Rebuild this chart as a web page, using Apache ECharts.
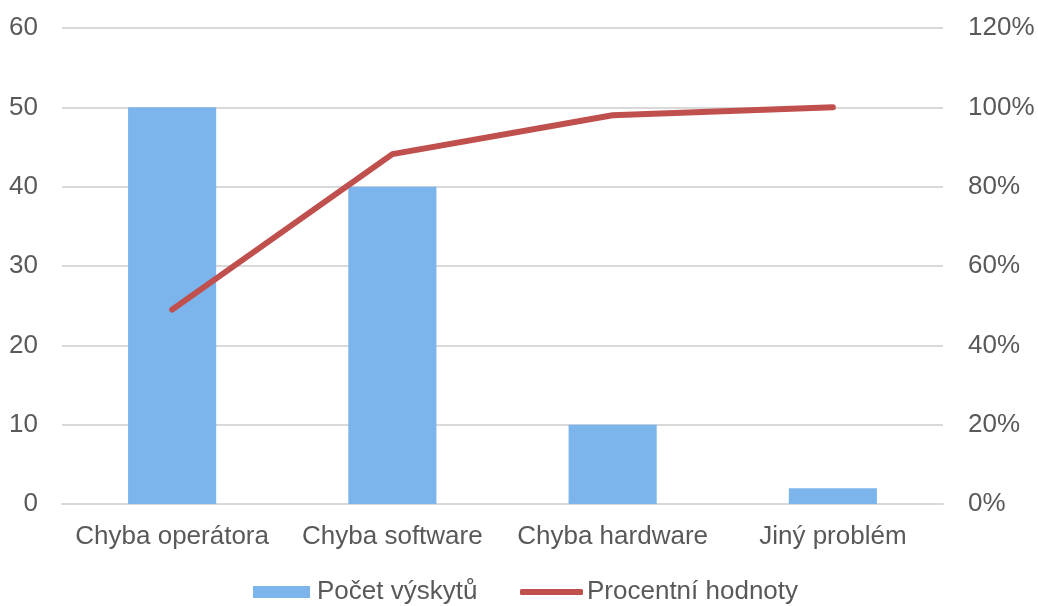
<!DOCTYPE html>
<html><head><meta charset="utf-8">
<script src="https://cdn.jsdelivr.net/npm/echarts@6/dist/echarts.min.js"></script>
<style>html,body{margin:0;padding:0;background:#fff}#c{width:1038px;height:606px}</style>
</head><body><div id="c"></div>
<script>
const categories = ['Chyba operátora', 'Chyba software', 'Chyba hardware', 'Jiný problém'];
const counts = [50, 40, 10, 2];
const percents = [49.0, 88.2, 98.0, 100];
const leftTicks = [0, 60, 10];
const rightTicks = [0, 120, 20];
const seriesNames = ['Počet výskytů', 'Procentní hodnoty'];

const font = 'Liberation Sans, Arial, sans-serif';
const txt = '#595959';
const fs = 26;
const chart = echarts.init(document.getElementById('c'));
chart.setOption({
  animation: false,
  textStyle: { fontFamily: font },
  grid: { left: 62, right: 95, top: 28, bottom: 102, containLabel: false },
  legend: [
    { data: [seriesNames[0]], left: 253, top: 579, padding: 0, itemWidth: 57, itemHeight: 12, itemGap: 0,
      icon: 'rect', textStyle: { color: txt, fontSize: fs, fontFamily: font, padding: [0, 0, 0, 2] } },
    { data: [seriesNames[1]], left: 520, top: 579, padding: 0, itemWidth: 63, itemHeight: 6, itemGap: 0,
      icon: 'roundRect', textStyle: { color: txt, fontSize: fs, fontFamily: font, padding: [0, 0, 0, -1] } }
  ],
  xAxis: {
    type: 'category', data: categories,
    axisLine: { lineStyle: { color: '#d9d9d9', width: 2 } },
    axisTick: { show: false },
    axisLabel: { color: txt, fontSize: fs, fontFamily: font, margin: 20, interval: 0 }
  },
  yAxis: [
    { type: 'value', min: leftTicks[0], max: leftTicks[1], interval: leftTicks[2],
      axisLine: { show: false }, axisTick: { show: false },
      axisLabel: { color: txt, fontSize: fs, fontFamily: font, margin: 24 },
      splitLine: { lineStyle: { color: '#d9d9d9', width: 2 } } },
    { type: 'value', min: rightTicks[0], max: rightTicks[1], interval: rightTicks[2],
      axisLine: { show: false }, axisTick: { show: false },
      axisLabel: { color: txt, fontSize: fs, fontFamily: font, margin: 25, formatter: '{value}%' },
      splitLine: { show: false } }
  ],
  series: [
    { name: seriesNames[0], type: 'bar', data: counts, barWidth: '40%',
      itemStyle: { color: '#7cb4ec' } },
    { name: seriesNames[1], type: 'line', yAxisIndex: 1, data: percents,
      symbol: 'none', lineStyle: { color: '#c0504d', width: 6, cap: 'round' },
      itemStyle: { color: '#c0504d' } }
  ]
});
</script></body></html>
